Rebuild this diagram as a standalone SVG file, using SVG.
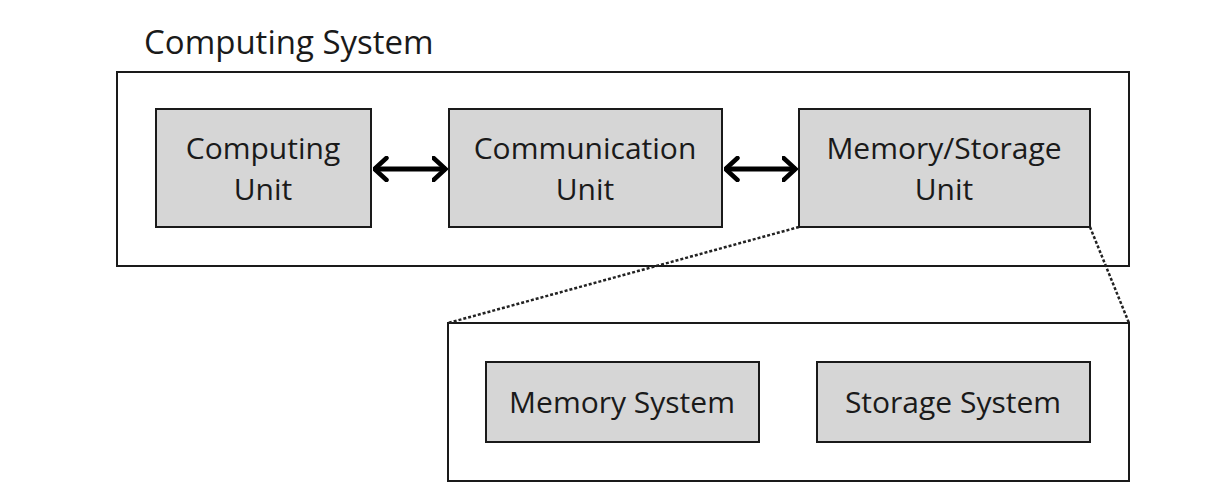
<svg xmlns="http://www.w3.org/2000/svg" width="1226" height="488" viewBox="0 0 1226 488">
  <style>
    .frame { fill: #ffffff; stroke: #1a1a1a; stroke-width: 2; }
    .unit { fill: #d6d6d6; stroke: #1a1a1a; stroke-width: 2; }
    .label { font-family: "Open Sans", "Liberation Sans", sans-serif; font-size: 30px; fill: #1a1a1a; text-anchor: middle; }
    .title { font-family: "Open Sans", "Liberation Sans", sans-serif; font-size: 33px; fill: #1a1a1a; }
    .arrow { stroke: #000000; stroke-width: 5; fill: none; }
    .zoomline { stroke: #222222; stroke-width: 2.5; stroke-dasharray: 3 2; fill: none; }
  </style>
  <defs>
    <marker id="chev" viewBox="0 0 16 26" refX="14.5" refY="13" markerWidth="16" markerHeight="26" markerUnits="userSpaceOnUse" orient="auto-start-reverse">
      <path d="M2,2 L14,13 L2,24" fill="none" stroke="#000000" stroke-width="4.5" stroke-linecap="round" stroke-linejoin="miter"/>
    </marker>
  </defs>
  <rect width="1226" height="488" fill="#ffffff"/>

  <g id="computing-system">
    <text class="title" x="144" y="54">Computing System</text>
    <rect class="frame" x="117" y="72" width="1012" height="194"/>
  </g>

  <g id="computing-unit">
    <rect class="unit" x="156" y="109" width="215" height="118"/>
    <text class="label" x="263" y="159">Computing</text>
    <text class="label" x="263" y="200">Unit</text>
  </g>

  <g id="communication-unit">
    <rect class="unit" x="449" y="109" width="273" height="118"/>
    <text class="label" x="585" y="159">Communication</text>
    <text class="label" x="585" y="200">Unit</text>
  </g>

  <g id="memory-storage-unit">
    <rect class="unit" x="799" y="109" width="291" height="118"/>
    <text class="label" x="944" y="159">Memory/Storage</text>
    <text class="label" x="944" y="200">Unit</text>
  </g>

  <g id="memory-storage-detail">
    <rect class="frame" x="448" y="323" width="681" height="158"/>
  </g>

  <g id="memory-system">
    <rect class="unit" x="486" y="362" width="273" height="80"/>
    <text class="label" x="622" y="413">Memory System</text>
  </g>

  <g id="storage-system">
    <rect class="unit" x="817" y="362" width="273" height="80"/>
    <text class="label" x="953" y="413">Storage System</text>
  </g>

  <g id="connectors">
    <line class="arrow" x1="374" y1="169" x2="446" y2="169" marker-start="url(#chev)" marker-end="url(#chev)"/>
    <line class="arrow" x1="725" y1="169" x2="796" y2="169" marker-start="url(#chev)" marker-end="url(#chev)"/>
    <line class="zoomline" x1="799" y1="227" x2="448" y2="323"/>
    <line class="zoomline" x1="1090" y1="227" x2="1129" y2="323"/>
  </g>
</svg>
